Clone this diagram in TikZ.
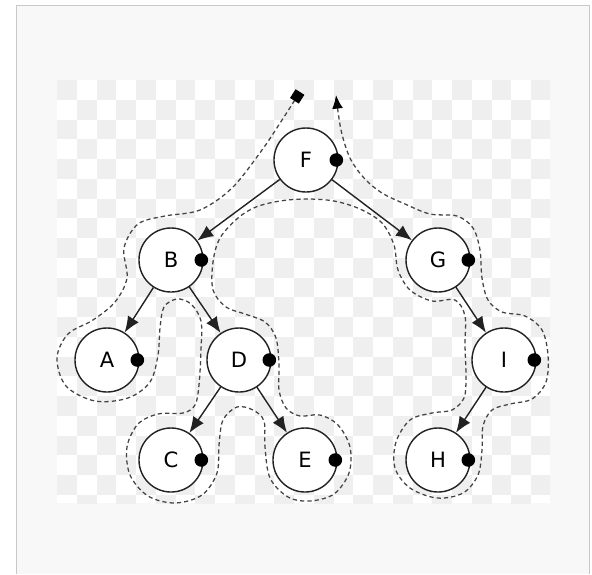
\documentclass[tikz,border=0pt]{standalone}
\usepackage{fontspec}
\setsansfont{DejaVu Sans}
\usetikzlibrary{arrows.meta}
\definecolor{framegray}{HTML}{C8C8C8}
\definecolor{pagegray}{HTML}{F8F8F8}
\definecolor{checkgray}{HTML}{EFEFEF}
\definecolor{inkgray}{HTML}{222222}
\definecolor{walkgray}{HTML}{444444}

\begin{document}
\begin{tikzpicture}[x=0.025cm,y=-0.025cm,
  vertex/.style={circle,draw=inkgray,line width=1pt,fill=white,minimum size=1.6cm,inner sep=0pt,
    font=\sffamily\fontsize{15}{18}\selectfont},
  treelink/.style={draw=inkgray,line width=1pt,-{Latex[length=0.4cm,width=0.32cm]}},
  walk/.style={draw=walkgray,line width=0.9pt,dash pattern=on 3pt off 2.2pt,
    {Square[length=0.26cm,width=0.26cm,color=black]}-{Latex[length=0.34cm,width=0.27cm,color=black]}}]
\useasboundingbox (0,0) rectangle (592,574);

% frame
\fill[pagegray] (16.5,5.5) rectangle (589.5,574);
\draw[framegray,line width=1.4pt] (16.5,574) -- (16.5,5.5) -- (589.5,5.5) -- (589.5,574);

% checker background
\begin{scope}
\clip (57,80) rectangle (550,503);
\fill[white] (57,80) rectangle (550,503);
\foreach \i in {0,...,24}
  \foreach \j in {0,...,21}{
    \pgfmathtruncatemacro\k{mod(\i+\j,2)}
    \ifnum\k=0 \fill[checkgray] ({57+19.75*\i},{80+19.75*\j}) rectangle +(19.75,19.75); \fi
  }
\end{scope}

% post-order walk round the tree
\draw[walk] plot[smooth,tension=0.55] coordinates {
  (300,92) (282,120) (262,150) (232,188) (200,210) (165,216) (138,224) (124,248)
  (127,278) (115,302) (93,320) (68,334) (57,358) (66,386) (95,401) (128,398)
  (150,382) (158,355) (160,328) (164,307) (177,299) (191,304) (201,321) (201,350)
  (199,385) (195,405) (183,413) (158,414) (138,424) (127,447) (130,475) (148,496)
  (175,503) (202,495) (217,473) (219,445) (223,420) (237,407) (253,410) (264,421)
  (265,447) (270,478) (288,497) (310,501) (334,494) (349,473) (350,447) (338,425)
  (320,415) (300,416) (286,408) (279,390) (279,365) (276,338) (265,322) (245,314)
  (226,307) (213,290) (213,262) (220,238) (238,218) (256,207) (280,201) (306,199)
  (334,201) (360,209) (382,223) (394,245) (398,270) (410,290) (432,301) (455,300)
  (465,316) (465,345) (466,378) (464,398) (452,410) (432,413) (410,420) (396,442)
  (395,468) (410,488) (437,498) (463,493) (478,475) (482,450) (483,426) (492,410)
  (510,404) (532,399) (546,382) (548,355) (542,330) (525,316) (502,312) (488,300)
  (482,278) (480,250) (473,228) (457,216) (430,214) (405,204) (382,193) (364,178)
  (350,158) (341,130) (336,95)};

% nodes
\node[vertex] (F) at (306,160) {F};
\node[vertex] (B) at (171,260) {B};
\node[vertex] (G) at (438,260) {G};
\node[vertex] (A) at (107,360) {A};
\node[vertex] (D) at (239,360) {D};
\node[vertex] (I) at (504,360) {I};
\node[vertex] (C) at (171,460) {C};
\node[vertex] (E) at (305,460) {E};
\node[vertex] (H) at (438,460) {H};

% edges
\draw[treelink] (F) -- (B);
\draw[treelink] (F) -- (G);
\draw[treelink] (B) -- (A);
\draw[treelink] (B) -- (D);
\draw[treelink] (D) -- (C);
\draw[treelink] (D) -- (E);
\draw[treelink] (G) -- (I);
\draw[treelink] (I) -- (H);

% visit marks
\foreach \v in {F,B,G,A,D,I,C,E,H}
  \fill ([xshift=-0.06cm]\v.east) circle (0.17cm);
\end{tikzpicture}
\end{document}
